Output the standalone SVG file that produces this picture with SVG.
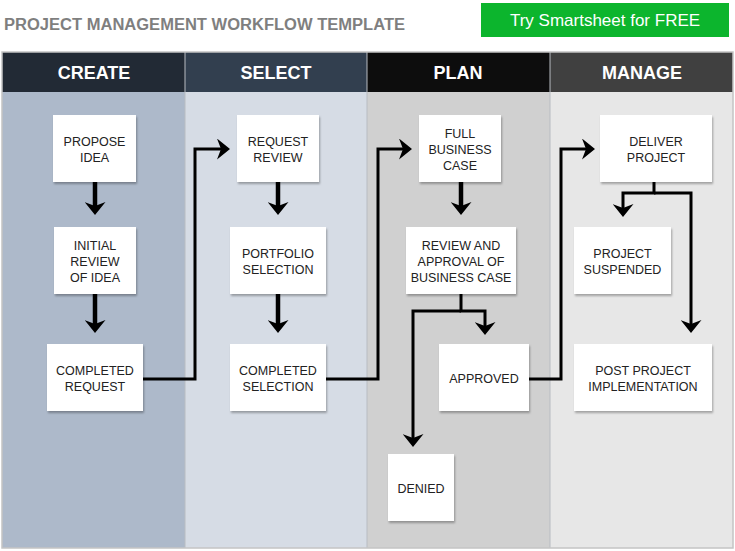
<svg xmlns="http://www.w3.org/2000/svg" width="735" height="551" viewBox="0 0 735 551">
<defs>
<style>
.title{font-family:"Liberation Sans",Arial,sans-serif;font-weight:bold;font-size:16px;fill:#7f7f7f}
.btn{font-family:"Liberation Sans",Arial,sans-serif;font-size:17px;fill:#ffffff}
.hdr{font-family:"Liberation Sans",Arial,sans-serif;font-weight:bold;font-size:18px;fill:#ffffff;text-anchor:middle}
.box{fill:#ffffff;filter:url(#sh)}
.lbl{font-family:"Liberation Sans",Arial,sans-serif;font-size:12.5px;fill:#222222;text-anchor:middle}
.c{fill:none;stroke:#000000;stroke-width:3;marker-end:url(#ah)}
.s{stroke-width:4.5}
</style>
<filter id="sh" x="-10%" y="-10%" width="130%" height="140%">
<feDropShadow dx="1" dy="2" stdDeviation="1.2" flood-color="#000" flood-opacity="0.3"/>
</filter>
<marker id="ah" markerUnits="userSpaceOnUse" markerWidth="13" markerHeight="21" viewBox="0 0 13 21" refX="7" refY="10.5" orient="auto">
<path d="M0,0 L13,10.5 L0,21 L4,10.5 Z" fill="#000000"/>
</marker>
</defs>
<rect x="0" y="0" width="735" height="551" fill="#ffffff"/>
<text class="title" x="4" y="30" textLength="401" lengthAdjust="spacingAndGlyphs">PROJECT MANAGEMENT WORKFLOW TEMPLATE</text>
<g id="button">
<rect x="481" y="3" width="248" height="34" fill="#0cb52d"/>
<text class="btn" x="605" y="26" text-anchor="middle">Try Smartsheet for FREE</text>
</g>
<g id="lanes">
<rect x="2" y="92" width="183" height="456" fill="#adb9ca"/>
<rect x="185" y="92" width="182" height="456" fill="#d6dce5"/>
<rect x="367" y="92" width="183" height="456" fill="#d0d0d0"/>
<rect x="550" y="92" width="183" height="456" fill="#e7e7e7"/>
<rect x="2" y="52" width="183" height="40" fill="#222a35"/>
<rect x="185" y="52" width="182" height="40" fill="#323f4f"/>
<rect x="367" y="52" width="183" height="40" fill="#0d0d0d"/>
<rect x="550" y="52" width="183" height="40" fill="#404040"/>
<g stroke="#b8bcc2" stroke-width="1">
<line x1="185" y1="52" x2="185" y2="548"/>
<line x1="367" y1="52" x2="367" y2="548"/>
<line x1="550" y1="52" x2="550" y2="548"/>
</g>
<rect x="2" y="52" width="731" height="496" fill="none" stroke="#c4c4c4" stroke-width="1.5"/>
<text class="hdr" x="94" y="79">CREATE</text>
<text class="hdr" x="276" y="79">SELECT</text>
<text class="hdr" x="458" y="79">PLAN</text>
<text class="hdr" x="642" y="79">MANAGE</text>
</g>
<g id="connectors">
<path class="c s" d="M95,182 V209"/>
<path class="c s" d="M95,294 V327"/>
<path class="c" d="M143,379 H195 V149 H224"/>
<path class="c s" d="M278,182 V209"/>
<path class="c s" d="M278,294 V327"/>
<path class="c" d="M326,379 H378 V149 H406"/>
<path class="c s" d="M461,182 V209"/>
<path class="c" d="M461,294 V311 H485 V329"/>
<path class="c" d="M461,311 H413 V441"/>
<path class="c" d="M529,379 H561 V149 H589"/>
<path class="c" d="M654,182 V193 H623 V211"/>
<path class="c" d="M654,193 H691 V327"/>
</g>
<g id="propose-idea"><rect class="box" x="53" y="115" width="83" height="67"/><text class="lbl" x="94.5" y="146">PROPOSE</text><text class="lbl" x="94.5" y="162">IDEA</text></g>
<g id="initial-review"><rect class="box" x="54" y="227" width="82" height="67"/><text class="lbl" x="95" y="250">INITIAL</text><text class="lbl" x="95" y="266">REVIEW</text><text class="lbl" x="95" y="282">OF IDEA</text></g>
<g id="completed-request"><rect class="box" x="47" y="344" width="96" height="67"/><text class="lbl" x="95" y="375">COMPLETED</text><text class="lbl" x="95" y="391">REQUEST</text></g>
<g id="request-review"><rect class="box" x="237" y="115" width="82" height="67"/><text class="lbl" x="278" y="146">REQUEST</text><text class="lbl" x="278" y="162">REVIEW</text></g>
<g id="portfolio-selection"><rect class="box" x="230" y="227" width="96" height="67"/><text class="lbl" x="278" y="258">PORTFOLIO</text><text class="lbl" x="278" y="274">SELECTION</text></g>
<g id="completed-selection"><rect class="box" x="230" y="344" width="96" height="67"/><text class="lbl" x="278" y="375">COMPLETED</text><text class="lbl" x="278" y="391">SELECTION</text></g>
<g id="full-business-case"><rect class="box" x="419" y="115" width="82" height="67"/><text class="lbl" x="460" y="138">FULL</text><text class="lbl" x="460" y="154">BUSINESS</text><text class="lbl" x="460" y="170">CASE</text></g>
<g id="review-approval"><rect class="box" x="406" y="227" width="110" height="67"/><text class="lbl" x="461" y="250">REVIEW AND</text><text class="lbl" x="461" y="266">APPROVAL OF</text><text class="lbl" x="461" y="282">BUSINESS CASE</text></g>
<g id="approved"><rect class="box" x="439" y="344" width="90" height="67"/><text class="lbl" x="484" y="383">APPROVED</text></g>
<g id="denied"><rect class="box" x="388" y="454" width="66" height="67"/><text class="lbl" x="421" y="493">DENIED</text></g>
<g id="deliver-project"><rect class="box" x="600" y="115" width="112" height="67"/><text class="lbl" x="656" y="146">DELIVER</text><text class="lbl" x="656" y="162">PROJECT</text></g>
<g id="project-suspended"><rect class="box" x="574" y="227" width="97" height="67"/><text class="lbl" x="622.5" y="258">PROJECT</text><text class="lbl" x="622.5" y="274">SUSPENDED</text></g>
<g id="post-project"><rect class="box" x="574" y="344" width="138" height="67"/><text class="lbl" x="643" y="375">POST PROJECT</text><text class="lbl" x="643" y="391">IMPLEMENTATION</text></g>
</svg>
